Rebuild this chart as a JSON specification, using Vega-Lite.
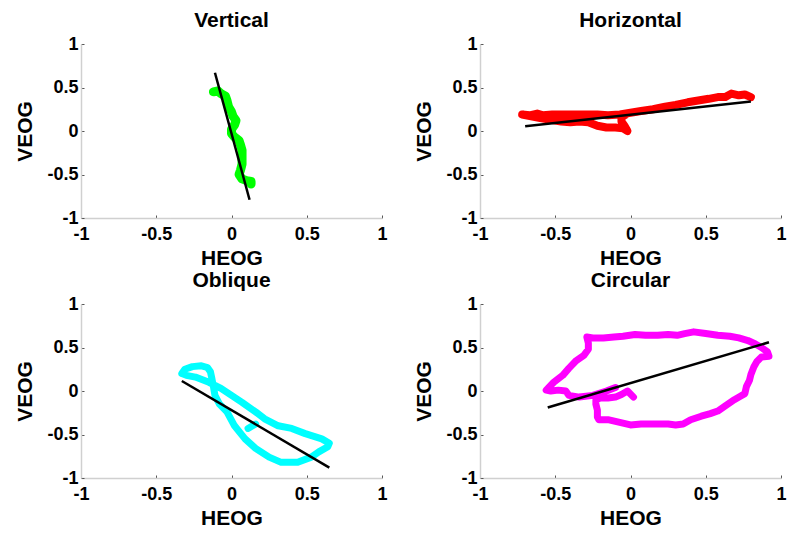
{
  "$schema": "https://vega.github.io/schema/vega-lite/v6.json",
  "background": "white",
  "padding": {"left": 14, "top": 10, "right": 5, "bottom": 5},
  "bounds": "flush",
  "spacing": {"column": 98, "row": 86},
  "columns": 2,
  "config": {
    "font": "Liberation Sans",
    "view": {"stroke": null},
    "title": {"font": "Liberation Sans", "fontSize": 21, "fontWeight": "bold", "color": "black", "offset": 0, "anchor": "middle"},
    "axis": {
      "grid": false,
      "domainColor": "#d0d0d0",
      "domainWidth": 1.5,
      "tickColor": "#555555",
      "tickSize": -3,
      "tickWidth": 1,
      "labelFont": "Liberation Sans",
      "labelFontSize": 18,
      "labelFontWeight": "bold",
      "labelColor": "black",
      "labelFlush": false,
      "labelOverlap": false,
      "labelBound": false,
      "titleFont": "Liberation Sans",
      "titleFontSize": 21,
      "titleFontWeight": "bold",
      "titleColor": "black"
    },
    "axisX": {"labelPadding": 10, "titlePadding": 4},
    "axisY": {"labelPadding": 6, "titlePadding": 11}
  },
  "datasets": {
    "traces": [
      {"panel": "Vertical", "seg": 0, "i": 0, "x": -0.12, "y": 0.45},
      {"panel": "Vertical", "seg": 0, "i": 1, "x": -0.09, "y": 0.46},
      {"panel": "Vertical", "seg": 0, "i": 2, "x": -0.07, "y": 0.43},
      {"panel": "Vertical", "seg": 0, "i": 3, "x": -0.04, "y": 0.40},
      {"panel": "Vertical", "seg": 0, "i": 4, "x": -0.03, "y": 0.35},
      {"panel": "Vertical", "seg": 0, "i": 5, "x": -0.02, "y": 0.28},
      {"panel": "Vertical", "seg": 0, "i": 6, "x": 0.0, "y": 0.22},
      {"panel": "Vertical", "seg": 0, "i": 7, "x": 0.01, "y": 0.17},
      {"panel": "Vertical", "seg": 0, "i": 8, "x": 0.03, "y": 0.12},
      {"panel": "Vertical", "seg": 0, "i": 9, "x": 0.02, "y": 0.07},
      {"panel": "Vertical", "seg": 0, "i": 10, "x": 0.0, "y": 0.02},
      {"panel": "Vertical", "seg": 0, "i": 11, "x": 0.0, "y": -0.03},
      {"panel": "Vertical", "seg": 0, "i": 12, "x": 0.02, "y": -0.07},
      {"panel": "Vertical", "seg": 0, "i": 13, "x": 0.05, "y": -0.11},
      {"panel": "Vertical", "seg": 0, "i": 14, "x": 0.06, "y": -0.16},
      {"panel": "Vertical", "seg": 0, "i": 15, "x": 0.07, "y": -0.22},
      {"panel": "Vertical", "seg": 0, "i": 16, "x": 0.07, "y": -0.30},
      {"panel": "Vertical", "seg": 0, "i": 17, "x": 0.07, "y": -0.38},
      {"panel": "Vertical", "seg": 0, "i": 18, "x": 0.06, "y": -0.45},
      {"panel": "Vertical", "seg": 0, "i": 19, "x": 0.05, "y": -0.50},
      {"panel": "Vertical", "seg": 0, "i": 20, "x": 0.07, "y": -0.55},
      {"panel": "Vertical", "seg": 0, "i": 21, "x": 0.10, "y": -0.57},
      {"panel": "Vertical", "seg": 0, "i": 22, "x": 0.13, "y": -0.58},
      {"panel": "Vertical", "seg": 0, "i": 23, "x": 0.13, "y": -0.61},

      {"panel": "Horizontal", "seg": 0, "i": 0, "x": 0.80, "y": 0.39},
      {"panel": "Horizontal", "seg": 0, "i": 1, "x": 0.76, "y": 0.42},
      {"panel": "Horizontal", "seg": 0, "i": 2, "x": 0.72, "y": 0.41},
      {"panel": "Horizontal", "seg": 0, "i": 3, "x": 0.67, "y": 0.43},
      {"panel": "Horizontal", "seg": 0, "i": 4, "x": 0.63, "y": 0.39},
      {"panel": "Horizontal", "seg": 0, "i": 5, "x": 0.58, "y": 0.39},
      {"panel": "Horizontal", "seg": 0, "i": 6, "x": 0.52, "y": 0.37},
      {"panel": "Horizontal", "seg": 0, "i": 7, "x": 0.45, "y": 0.35},
      {"panel": "Horizontal", "seg": 0, "i": 8, "x": 0.38, "y": 0.33},
      {"panel": "Horizontal", "seg": 0, "i": 9, "x": 0.30, "y": 0.30},
      {"panel": "Horizontal", "seg": 0, "i": 10, "x": 0.23, "y": 0.28},
      {"panel": "Horizontal", "seg": 0, "i": 11, "x": 0.15, "y": 0.25},
      {"panel": "Horizontal", "seg": 0, "i": 12, "x": 0.07, "y": 0.23},
      {"panel": "Horizontal", "seg": 0, "i": 13, "x": 0.0, "y": 0.21},
      {"panel": "Horizontal", "seg": 0, "i": 14, "x": -0.07, "y": 0.19},
      {"panel": "Horizontal", "seg": 0, "i": 15, "x": -0.15, "y": 0.18},
      {"panel": "Horizontal", "seg": 0, "i": 16, "x": -0.22, "y": 0.19},
      {"panel": "Horizontal", "seg": 0, "i": 17, "x": -0.30, "y": 0.19},
      {"panel": "Horizontal", "seg": 0, "i": 18, "x": -0.38, "y": 0.19},
      {"panel": "Horizontal", "seg": 0, "i": 19, "x": -0.45, "y": 0.19},
      {"panel": "Horizontal", "seg": 0, "i": 20, "x": -0.52, "y": 0.19},
      {"panel": "Horizontal", "seg": 0, "i": 21, "x": -0.58, "y": 0.18},
      {"panel": "Horizontal", "seg": 0, "i": 22, "x": -0.62, "y": 0.20},
      {"panel": "Horizontal", "seg": 0, "i": 23, "x": -0.67, "y": 0.18},
      {"panel": "Horizontal", "seg": 0, "i": 24, "x": -0.72, "y": 0.19},
      {"panel": "Horizontal", "seg": 0, "i": 25, "x": -0.66, "y": 0.17},
      {"panel": "Horizontal", "seg": 0, "i": 26, "x": -0.60, "y": 0.15},
      {"panel": "Horizontal", "seg": 0, "i": 27, "x": -0.53, "y": 0.13},
      {"panel": "Horizontal", "seg": 0, "i": 28, "x": -0.46, "y": 0.11},
      {"panel": "Horizontal", "seg": 0, "i": 29, "x": -0.40, "y": 0.10},
      {"panel": "Horizontal", "seg": 0, "i": 30, "x": -0.34, "y": 0.11},
      {"panel": "Horizontal", "seg": 0, "i": 31, "x": -0.28, "y": 0.10},
      {"panel": "Horizontal", "seg": 0, "i": 32, "x": -0.22, "y": 0.06},
      {"panel": "Horizontal", "seg": 0, "i": 33, "x": -0.16, "y": 0.04},
      {"panel": "Horizontal", "seg": 0, "i": 34, "x": -0.10, "y": 0.04},
      {"panel": "Horizontal", "seg": 0, "i": 35, "x": -0.05, "y": 0.03},
      {"panel": "Horizontal", "seg": 0, "i": 36, "x": -0.02, "y": 0.0},
      {"panel": "Horizontal", "seg": 0, "i": 37, "x": -0.04, "y": 0.06},
      {"panel": "Horizontal", "seg": 0, "i": 38, "x": -0.06, "y": 0.11},
      {"panel": "Horizontal", "seg": 0, "i": 39, "x": -0.06, "y": 0.16},
      {"panel": "Horizontal", "seg": 0, "i": 40, "x": -0.03, "y": 0.19},

      {"panel": "Oblique", "seg": 0, "i": 0, "x": -0.33, "y": 0.20},
      {"panel": "Oblique", "seg": 0, "i": 1, "x": -0.31, "y": 0.25},
      {"panel": "Oblique", "seg": 0, "i": 2, "x": -0.26, "y": 0.28},
      {"panel": "Oblique", "seg": 0, "i": 3, "x": -0.20, "y": 0.29},
      {"panel": "Oblique", "seg": 0, "i": 4, "x": -0.16, "y": 0.27},
      {"panel": "Oblique", "seg": 0, "i": 5, "x": -0.14, "y": 0.22},
      {"panel": "Oblique", "seg": 0, "i": 6, "x": -0.13, "y": 0.14},
      {"panel": "Oblique", "seg": 0, "i": 7, "x": -0.12, "y": 0.05},
      {"panel": "Oblique", "seg": 0, "i": 8, "x": -0.11, "y": -0.05},
      {"panel": "Oblique", "seg": 0, "i": 9, "x": -0.08, "y": -0.15},
      {"panel": "Oblique", "seg": 0, "i": 10, "x": -0.03, "y": -0.24},
      {"panel": "Oblique", "seg": 0, "i": 11, "x": 0.02, "y": -0.40},
      {"panel": "Oblique", "seg": 0, "i": 12, "x": 0.09, "y": -0.55},
      {"panel": "Oblique", "seg": 0, "i": 13, "x": 0.16, "y": -0.66},
      {"panel": "Oblique", "seg": 0, "i": 14, "x": 0.25, "y": -0.76},
      {"panel": "Oblique", "seg": 0, "i": 15, "x": 0.33, "y": -0.82},
      {"panel": "Oblique", "seg": 0, "i": 16, "x": 0.44, "y": -0.82},
      {"panel": "Oblique", "seg": 0, "i": 17, "x": 0.53, "y": -0.76},
      {"panel": "Oblique", "seg": 0, "i": 18, "x": 0.58, "y": -0.70},
      {"panel": "Oblique", "seg": 0, "i": 19, "x": 0.64, "y": -0.64},
      {"panel": "Oblique", "seg": 0, "i": 20, "x": 0.65, "y": -0.60},
      {"panel": "Oblique", "seg": 0, "i": 21, "x": 0.60, "y": -0.55},
      {"panel": "Oblique", "seg": 0, "i": 22, "x": 0.49, "y": -0.49},
      {"panel": "Oblique", "seg": 0, "i": 23, "x": 0.40, "y": -0.43},
      {"panel": "Oblique", "seg": 0, "i": 24, "x": 0.31, "y": -0.40},
      {"panel": "Oblique", "seg": 0, "i": 25, "x": 0.22, "y": -0.32},
      {"panel": "Oblique", "seg": 0, "i": 26, "x": 0.16, "y": -0.24},
      {"panel": "Oblique", "seg": 0, "i": 27, "x": 0.07, "y": -0.13},
      {"panel": "Oblique", "seg": 0, "i": 28, "x": 0.0, "y": -0.05},
      {"panel": "Oblique", "seg": 0, "i": 29, "x": -0.07, "y": 0.03},
      {"panel": "Oblique", "seg": 0, "i": 30, "x": -0.15, "y": 0.10},
      {"panel": "Oblique", "seg": 0, "i": 31, "x": -0.24, "y": 0.16},
      {"panel": "Oblique", "seg": 0, "i": 32, "x": -0.30, "y": 0.18},
      {"panel": "Oblique", "seg": 0, "i": 33, "x": -0.33, "y": 0.20},
      {"panel": "Oblique", "seg": 1, "i": 0, "x": 0.11, "y": -0.43},
      {"panel": "Oblique", "seg": 1, "i": 1, "x": 0.16, "y": -0.38},

      {"panel": "Circular", "seg": 0, "i": 0, "x": 0.02, "y": -0.07},
      {"panel": "Circular", "seg": 0, "i": 1, "x": -0.02, "y": 0.0},
      {"panel": "Circular", "seg": 0, "i": 2, "x": -0.06, "y": -0.04},
      {"panel": "Circular", "seg": 0, "i": 3, "x": -0.10, "y": -0.07},
      {"panel": "Circular", "seg": 0, "i": 4, "x": -0.15, "y": -0.08},
      {"panel": "Circular", "seg": 0, "i": 5, "x": -0.20, "y": -0.08},
      {"panel": "Circular", "seg": 0, "i": 6, "x": -0.23, "y": -0.10},
      {"panel": "Circular", "seg": 0, "i": 7, "x": -0.23, "y": -0.15},
      {"panel": "Circular", "seg": 0, "i": 8, "x": -0.22, "y": -0.22},
      {"panel": "Circular", "seg": 0, "i": 9, "x": -0.22, "y": -0.30},
      {"panel": "Circular", "seg": 0, "i": 10, "x": -0.21, "y": -0.33},
      {"panel": "Circular", "seg": 0, "i": 11, "x": -0.15, "y": -0.33},
      {"panel": "Circular", "seg": 0, "i": 12, "x": -0.10, "y": -0.35},
      {"panel": "Circular", "seg": 0, "i": 13, "x": -0.05, "y": -0.37},
      {"panel": "Circular", "seg": 0, "i": 14, "x": 0.0, "y": -0.39},
      {"panel": "Circular", "seg": 0, "i": 15, "x": 0.07, "y": -0.38},
      {"panel": "Circular", "seg": 0, "i": 16, "x": 0.14, "y": -0.38},
      {"panel": "Circular", "seg": 0, "i": 17, "x": 0.20, "y": -0.38},
      {"panel": "Circular", "seg": 0, "i": 18, "x": 0.25, "y": -0.38},
      {"panel": "Circular", "seg": 0, "i": 19, "x": 0.30, "y": -0.39},
      {"panel": "Circular", "seg": 0, "i": 20, "x": 0.35, "y": -0.38},
      {"panel": "Circular", "seg": 0, "i": 21, "x": 0.40, "y": -0.33},
      {"panel": "Circular", "seg": 0, "i": 22, "x": 0.47, "y": -0.29},
      {"panel": "Circular", "seg": 0, "i": 23, "x": 0.53, "y": -0.26},
      {"panel": "Circular", "seg": 0, "i": 24, "x": 0.58, "y": -0.23},
      {"panel": "Circular", "seg": 0, "i": 25, "x": 0.63, "y": -0.17},
      {"panel": "Circular", "seg": 0, "i": 26, "x": 0.69, "y": -0.10},
      {"panel": "Circular", "seg": 0, "i": 27, "x": 0.73, "y": -0.06},
      {"panel": "Circular", "seg": 0, "i": 28, "x": 0.76, "y": -0.03},
      {"panel": "Circular", "seg": 0, "i": 29, "x": 0.77, "y": 0.05},
      {"panel": "Circular", "seg": 0, "i": 30, "x": 0.79, "y": 0.12},
      {"panel": "Circular", "seg": 0, "i": 31, "x": 0.80, "y": 0.19},
      {"panel": "Circular", "seg": 0, "i": 32, "x": 0.82, "y": 0.28},
      {"panel": "Circular", "seg": 0, "i": 33, "x": 0.84, "y": 0.34},
      {"panel": "Circular", "seg": 0, "i": 34, "x": 0.87, "y": 0.39},
      {"panel": "Circular", "seg": 0, "i": 35, "x": 0.92, "y": 0.40},
      {"panel": "Circular", "seg": 0, "i": 36, "x": 0.91, "y": 0.45},
      {"panel": "Circular", "seg": 0, "i": 37, "x": 0.87, "y": 0.50},
      {"panel": "Circular", "seg": 0, "i": 38, "x": 0.83, "y": 0.54},
      {"panel": "Circular", "seg": 0, "i": 39, "x": 0.78, "y": 0.58},
      {"panel": "Circular", "seg": 0, "i": 40, "x": 0.72, "y": 0.61},
      {"panel": "Circular", "seg": 0, "i": 41, "x": 0.66, "y": 0.63},
      {"panel": "Circular", "seg": 0, "i": 42, "x": 0.58, "y": 0.64},
      {"panel": "Circular", "seg": 0, "i": 43, "x": 0.50, "y": 0.66},
      {"panel": "Circular", "seg": 0, "i": 44, "x": 0.42, "y": 0.68},
      {"panel": "Circular", "seg": 0, "i": 45, "x": 0.36, "y": 0.66},
      {"panel": "Circular", "seg": 0, "i": 46, "x": 0.31, "y": 0.64},
      {"panel": "Circular", "seg": 0, "i": 47, "x": 0.25, "y": 0.65},
      {"panel": "Circular", "seg": 0, "i": 48, "x": 0.18, "y": 0.64},
      {"panel": "Circular", "seg": 0, "i": 49, "x": 0.10, "y": 0.64},
      {"panel": "Circular", "seg": 0, "i": 50, "x": 0.03, "y": 0.65},
      {"panel": "Circular", "seg": 0, "i": 51, "x": -0.05, "y": 0.63},
      {"panel": "Circular", "seg": 0, "i": 52, "x": -0.11, "y": 0.62},
      {"panel": "Circular", "seg": 0, "i": 53, "x": -0.18, "y": 0.61},
      {"panel": "Circular", "seg": 0, "i": 54, "x": -0.25, "y": 0.61},
      {"panel": "Circular", "seg": 0, "i": 55, "x": -0.29, "y": 0.62},
      {"panel": "Circular", "seg": 0, "i": 56, "x": -0.28, "y": 0.55},
      {"panel": "Circular", "seg": 0, "i": 57, "x": -0.28, "y": 0.48},
      {"panel": "Circular", "seg": 0, "i": 58, "x": -0.31, "y": 0.41},
      {"panel": "Circular", "seg": 0, "i": 59, "x": -0.36, "y": 0.35},
      {"panel": "Circular", "seg": 0, "i": 60, "x": -0.41, "y": 0.26},
      {"panel": "Circular", "seg": 0, "i": 61, "x": -0.45, "y": 0.18},
      {"panel": "Circular", "seg": 0, "i": 62, "x": -0.51, "y": 0.10},
      {"panel": "Circular", "seg": 0, "i": 63, "x": -0.56, "y": 0.01},
      {"panel": "Circular", "seg": 0, "i": 64, "x": -0.53, "y": 0.0},
      {"panel": "Circular", "seg": 0, "i": 65, "x": -0.48, "y": 0.01},
      {"panel": "Circular", "seg": 0, "i": 66, "x": -0.43, "y": 0.0},
      {"panel": "Circular", "seg": 0, "i": 67, "x": -0.41, "y": -0.05},
      {"panel": "Circular", "seg": 0, "i": 68, "x": -0.34, "y": -0.07},
      {"panel": "Circular", "seg": 0, "i": 69, "x": -0.25, "y": -0.05},
      {"panel": "Circular", "seg": 0, "i": 70, "x": -0.16, "y": 0.0},
      {"panel": "Circular", "seg": 0, "i": 71, "x": -0.10, "y": 0.04}
    ],
    "fits": [
      {"panel": "Vertical", "x": -0.11, "y": 0.67},
      {"panel": "Vertical", "x": 0.12, "y": -0.79},
      {"panel": "Horizontal", "x": -0.70, "y": 0.055},
      {"panel": "Horizontal", "x": 0.80, "y": 0.34},
      {"panel": "Oblique", "x": -0.33, "y": 0.115},
      {"panel": "Oblique", "x": 0.65, "y": -0.88},
      {"panel": "Circular", "x": -0.55, "y": -0.19},
      {"panel": "Circular", "x": 0.92, "y": 0.56}
    ]
  },
  "concat": [
    {
      "title": "Vertical",
      "width": 301, "height": 174,
      "layer": [
        {
          "data": {"name": "traces"},
          "transform": [{"filter": "datum.panel === 'Vertical'"}],
          "mark": {"type": "line", "color": "#00ff00", "strokeWidth": 9, "strokeCap": "round", "strokeJoin": "round"},
          "encoding": {
            "x": {"field": "x", "type": "quantitative", "scale": {"domain": [-1, 1]}, "axis": {"title": "HEOG", "values": [-1, -0.5, 0, 0.5, 1], "labelExpr": "toString(datum.value)"}},
            "y": {"field": "y", "type": "quantitative", "scale": {"domain": [-1, 1]}, "axis": {"title": "VEOG", "values": [-1, -0.5, 0, 0.5, 1], "labelExpr": "toString(datum.value)"}},
            "order": {"field": "i", "type": "quantitative"},
            "detail": {"field": "seg"}
          }
        },
        {
          "data": {"name": "fits"},
          "transform": [{"filter": "datum.panel === 'Vertical'"}],
          "mark": {"type": "line", "color": "black", "strokeWidth": 2.5},
          "encoding": {
            "x": {"field": "x", "type": "quantitative"},
            "y": {"field": "y", "type": "quantitative"}
          }
        }
      ]
    },
    {
      "title": "Horizontal",
      "width": 301, "height": 174,
      "layer": [
        {
          "data": {"name": "traces"},
          "transform": [{"filter": "datum.panel === 'Horizontal'"}],
          "mark": {"type": "line", "color": "#ff0000", "strokeWidth": 8, "strokeCap": "round", "strokeJoin": "round"},
          "encoding": {
            "x": {"field": "x", "type": "quantitative", "scale": {"domain": [-1, 1]}, "axis": {"title": "HEOG", "values": [-1, -0.5, 0, 0.5, 1], "labelExpr": "toString(datum.value)"}},
            "y": {"field": "y", "type": "quantitative", "scale": {"domain": [-1, 1]}, "axis": {"title": "VEOG", "values": [-1, -0.5, 0, 0.5, 1], "labelExpr": "toString(datum.value)"}},
            "order": {"field": "i", "type": "quantitative"},
            "detail": {"field": "seg"}
          }
        },
        {
          "data": {"name": "fits"},
          "transform": [{"filter": "datum.panel === 'Horizontal'"}],
          "mark": {"type": "line", "color": "black", "strokeWidth": 2.5},
          "encoding": {
            "x": {"field": "x", "type": "quantitative"},
            "y": {"field": "y", "type": "quantitative"}
          }
        }
      ]
    },
    {
      "title": "Oblique",
      "width": 301, "height": 174,
      "layer": [
        {
          "data": {"name": "traces"},
          "transform": [{"filter": "datum.panel === 'Oblique'"}],
          "mark": {"type": "line", "color": "#00ffff", "strokeWidth": 7, "strokeCap": "round", "strokeJoin": "round"},
          "encoding": {
            "x": {"field": "x", "type": "quantitative", "scale": {"domain": [-1, 1]}, "axis": {"title": "HEOG", "values": [-1, -0.5, 0, 0.5, 1], "labelExpr": "toString(datum.value)"}},
            "y": {"field": "y", "type": "quantitative", "scale": {"domain": [-1, 1]}, "axis": {"title": "VEOG", "values": [-1, -0.5, 0, 0.5, 1], "labelExpr": "toString(datum.value)"}},
            "order": {"field": "i", "type": "quantitative"},
            "detail": {"field": "seg"}
          }
        },
        {
          "data": {"name": "fits"},
          "transform": [{"filter": "datum.panel === 'Oblique'"}],
          "mark": {"type": "line", "color": "black", "strokeWidth": 2.5},
          "encoding": {
            "x": {"field": "x", "type": "quantitative"},
            "y": {"field": "y", "type": "quantitative"}
          }
        }
      ]
    },
    {
      "title": "Circular",
      "width": 301, "height": 174,
      "layer": [
        {
          "data": {"name": "traces"},
          "transform": [{"filter": "datum.panel === 'Circular'"}],
          "mark": {"type": "line", "color": "#ff00ff", "strokeWidth": 7, "strokeCap": "round", "strokeJoin": "round"},
          "encoding": {
            "x": {"field": "x", "type": "quantitative", "scale": {"domain": [-1, 1]}, "axis": {"title": "HEOG", "values": [-1, -0.5, 0, 0.5, 1], "labelExpr": "toString(datum.value)"}},
            "y": {"field": "y", "type": "quantitative", "scale": {"domain": [-1, 1]}, "axis": {"title": "VEOG", "values": [-1, -0.5, 0, 0.5, 1], "labelExpr": "toString(datum.value)"}},
            "order": {"field": "i", "type": "quantitative"},
            "detail": {"field": "seg"}
          }
        },
        {
          "data": {"name": "fits"},
          "transform": [{"filter": "datum.panel === 'Circular'"}],
          "mark": {"type": "line", "color": "black", "strokeWidth": 2.5},
          "encoding": {
            "x": {"field": "x", "type": "quantitative"},
            "y": {"field": "y", "type": "quantitative"}
          }
        }
      ]
    }
  ]
}
